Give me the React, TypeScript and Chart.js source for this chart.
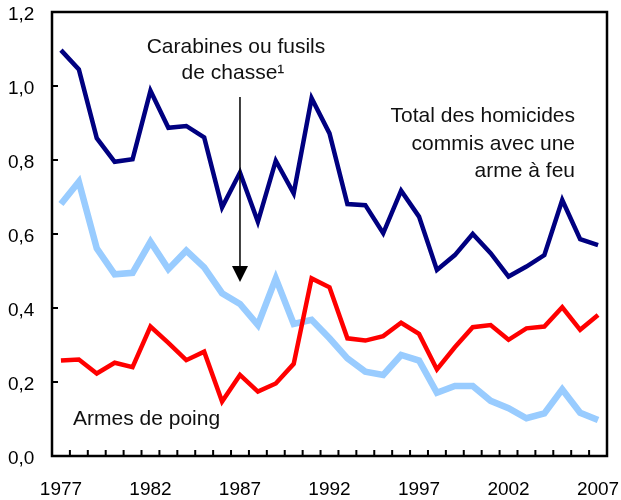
import React, { useEffect, useRef } from "react";
import { Chart, registerables } from "chart.js";

Chart.register(...registerables);

const years: string[] = [
  "1977", "1978", "1979", "1980", "1981", "1982", "1983", "1984", "1985", "1986",
  "1987", "1988", "1989", "1990", "1991", "1992", "1993", "1994", "1995", "1996",
  "1997", "1998", "1999", "2000", "2001", "2002", "2003", "2004", "2005", "2006", "2007",
];

const totalFirearms: number[] = [
  1.097, 1.045, 0.859, 0.795, 0.802, 0.987, 0.887, 0.892, 0.861, 0.672,
  0.766, 0.633, 0.798, 0.71, 0.967, 0.872, 0.681, 0.678, 0.602, 0.717,
  0.647, 0.503, 0.543, 0.6, 0.548, 0.485, 0.512, 0.543, 0.692, 0.586, 0.57,
];

const longGuns: number[] = [
  0.681, 0.741, 0.561, 0.491, 0.495, 0.579, 0.505, 0.555, 0.51, 0.44,
  0.411, 0.354, 0.48, 0.357, 0.368, 0.318, 0.264, 0.228, 0.219, 0.273,
  0.258, 0.171, 0.189, 0.189, 0.149, 0.129, 0.102, 0.115, 0.18, 0.117, 0.097,
];

const handguns: number[] = [
  0.258, 0.261, 0.223, 0.252, 0.24, 0.35, 0.306, 0.259, 0.282, 0.147,
  0.219, 0.174, 0.196, 0.249, 0.48, 0.456, 0.318, 0.312, 0.324, 0.36,
  0.33, 0.234, 0.294, 0.348, 0.354, 0.314, 0.345, 0.35, 0.402, 0.341, 0.381,
];

const yTicks: number[] = [0, 0.2, 0.4, 0.6, 0.8, 1.0, 1.2];
const labelEvery = 5;

const FONT = "'Liberation Sans', Arial, Helvetica, sans-serif";

const decorPlugin = {
  id: "decor",
  afterDraw(chart: any) {
    const ctx = chart.ctx;
    const area = chart.chartArea;
    const xs = chart.scales.x;
    const ys = chart.scales.y;
    ctx.save();
    ctx.strokeStyle = "#000";
    // frame
    ctx.lineWidth = 2.5;
    ctx.strokeRect(area.left, area.top, area.right - area.left, area.bottom - area.top);
    // inner x ticks at category boundaries
    ctx.lineWidth = 2;
    ctx.beginPath();
    for (let i = 1; i < years.length; i++) {
      const px = (xs.getPixelForValue(i - 1) + xs.getPixelForValue(i)) / 2;
      ctx.moveTo(px, area.bottom);
      ctx.lineTo(px, area.bottom - 6);
    }
    // inner y ticks
    for (const t of yTicks) {
      if (t === 0 || t === 1.2) continue;
      const py = ys.getPixelForValue(t);
      ctx.moveTo(area.left, py);
      ctx.lineTo(area.left + 6, py);
    }
    ctx.stroke();

    // arrow pointing at 1987 long guns
    const ax = xs.getPixelForValue(10);
    const yTop = ys.getPixelForValue(0.97);
    const yTip = ys.getPixelForValue(0.47);
    ctx.lineWidth = 1.5;
    ctx.beginPath();
    ctx.moveTo(ax, yTop);
    ctx.lineTo(ax, yTip - 14);
    ctx.stroke();
    ctx.fillStyle = "#000";
    ctx.beginPath();
    ctx.moveTo(ax - 8, yTip - 16);
    ctx.lineTo(ax + 8, yTip - 16);
    ctx.lineTo(ax, yTip);
    ctx.closePath();
    ctx.fill();

    // annotations
    ctx.font = `21px ${FONT}`;
    ctx.fillStyle = "#111";
    ctx.textBaseline = "alphabetic";
    ctx.textAlign = "center";
    ctx.fillText("Carabines ou fusils", ax - 4, 53);
    ctx.fillText("de chasse¹", ax - 7, 79);
    ctx.textAlign = "right";
    ctx.fillText("Total des homicides", 575, 122);
    ctx.fillText("commis avec une", 575, 150);
    ctx.fillText("arme à feu", 575, 177);
    ctx.textAlign = "left";
    ctx.fillText("Armes de poing", 73, 425);
    ctx.restore();
  },
};

export default function App() {
  const canvasRef = useRef<HTMLCanvasElement | null>(null);

  useEffect(() => {
    if (!canvasRef.current) return;
    const chart = new Chart(canvasRef.current, {
      type: "line",
      data: {
        labels: years,
        datasets: [
          {
            label: "Total des homicides commis avec une arme à feu",
            data: totalFirearms,
            borderColor: "#000080",
            borderWidth: 4.5,
            pointRadius: 0,
            tension: 0,
            fill: false,
          },
          {
            label: "Armes de poing",
            data: handguns,
            borderColor: "#FF0000",
            borderWidth: 4.5,
            pointRadius: 0,
            tension: 0,
            fill: false,
          },
          {
            label: "Carabines ou fusils de chasse",
            data: longGuns,
            borderColor: "#99CCFF",
            borderWidth: 6.5,
            pointRadius: 0,
            tension: 0,
            fill: false,
          },
        ],
      },
      options: {
        animation: false,
        responsive: false,
        maintainAspectRatio: false,
        layout: { padding: { left: 8, top: 12, right: 14, bottom: 0 } },
        plugins: {
          legend: { display: false },
          tooltip: { enabled: false },
          title: { display: false },
        },
        scales: {
          x: {
            type: "category",
            offset: true,
            grid: { display: false, offset: true },
            border: { display: false },
            afterFit: (s: any) => {
              s.height = 44;
            },
            ticks: {
              autoSkip: false,
              maxRotation: 0,
              minRotation: 0,
              padding: 0,
              color: "#000",
              font: { family: FONT, size: 19, lineHeight: "52px" },
              callback: (_v: any, i: number) =>
                i % labelEvery === 0 ? years[i] : "",
            },
          },
          y: {
            min: 0,
            max: 1.2,
            grid: { display: false },
            border: { display: false },
            afterFit: (s: any) => {
              s.width = 44;
            },
            afterBuildTicks: (s: any) => {
              s.ticks = yTicks.map((v) => ({ value: v }));
            },
            ticks: {
              crossAlign: "far",
              padding: 0,
              color: "#000",
              font: { family: FONT, size: 19, lineHeight: "5px" },
              callback: (v: any) => ["", Number(v).toFixed(1).replace(".", ",")],
            },
          },
        },
      },
      plugins: [decorPlugin],
    });
    return () => chart.destroy();
  }, []);

  return (
    <canvas
      ref={canvasRef}
      width={621}
      height={500}
      style={{ position: "absolute", left: 0, top: 0, width: 621, height: 500 }}
    />
  );
}
